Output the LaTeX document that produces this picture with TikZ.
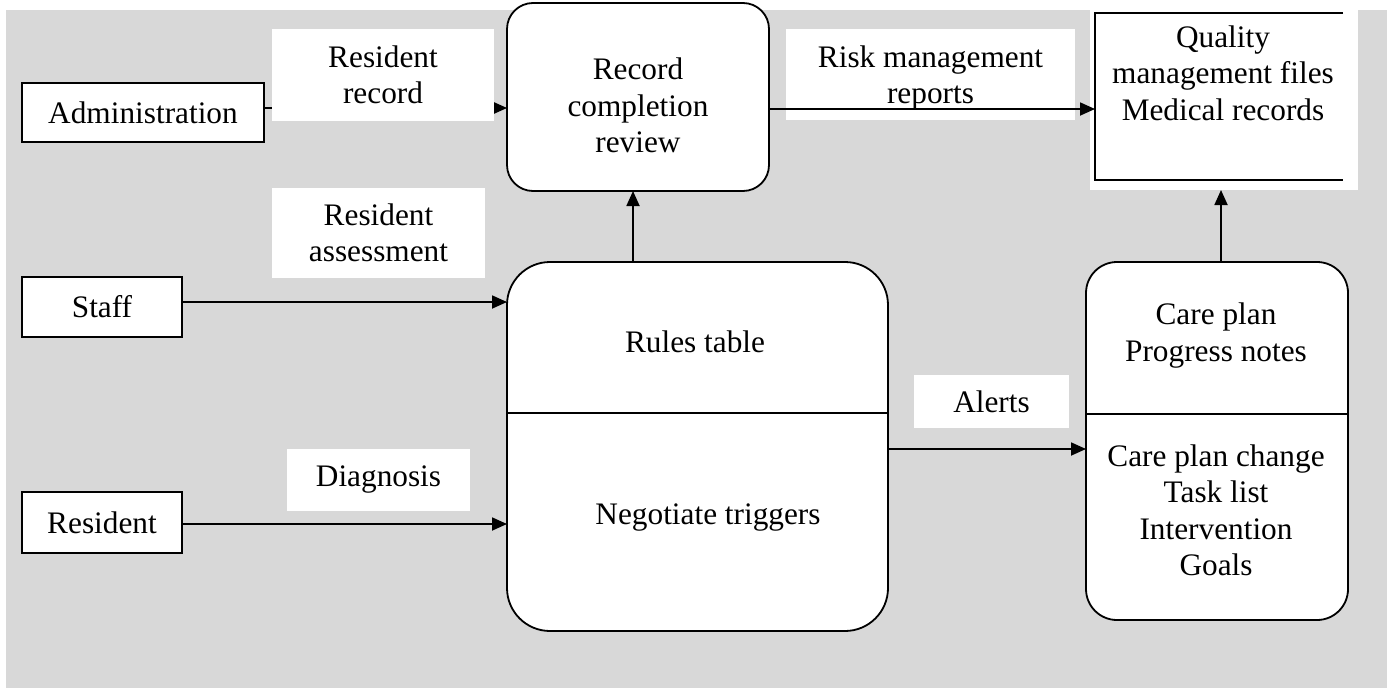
\documentclass[tikz,border=0pt]{standalone}
\usepackage{fontspec}
\setmainfont{Liberation Serif}
\usetikzlibrary{arrows.meta,calc}
\definecolor{bg}{RGB}{216,216,216}
\begin{document}
\begin{tikzpicture}[x=1pt,y=-1pt,
  every node/.style={font=\fontsize{31.3}{36.5}\selectfont, inner sep=0pt, outer sep=0pt},
  ext/.style={draw, fill=white, line width=1.8pt, rectangle},
  proc/.style={draw, fill=white, line width=1.8pt, rectangle},
  lbl/.style={fill=white, align=center},
  txt/.style={align=center},
  arr/.style={line width=1.8pt, -{Triangle[length=15pt,width=13pt]}},
  sep/.style={line width=1.8pt}]
\useasboundingbox (0,0) rectangle (1394,688);
\fill[bg] (6,10) rectangle (1387,688);

% external entities
\node[ext, minimum width=242pt, minimum height=59pt] (admin) at (143,112.5) {Administration};
\node[ext, minimum width=160pt, minimum height=60pt] (staff) at (102,307) {Staff};
\node[ext, minimum width=160pt, minimum height=61pt] (resident) at (102,522.5) {Resident};

% processes
\node[proc, rounded corners=26pt, minimum width=262pt, minimum height=188pt] (record) at (638,97) {};
\node[txt] (recordtxt) at (638,105.5) {Record\\completion\\review};

\node[proc, rounded corners=43pt, minimum width=381pt, minimum height=369pt] (rules) at (697.5,446.5) {};
\coordinate (rdiv) at (0,413);
\draw[sep] (rules.west |- rdiv) -- (rules.east |- rdiv);
\node (rulestxt) at (695,342) {Rules table};
\node (negtxt) at (708,518) {Negotiate triggers};

\node[proc, rounded corners=31pt, minimum width=262pt, minimum height=358pt] (care) at (1217,441) {};
\coordinate (cdiv) at (0,414);
\draw[sep] (care.west |- cdiv) -- (care.east |- cdiv);
\node[txt] (caretop) at (1216,335.5) {Care plan\\Progress notes};
\node[txt] (carebot) at (1216,510.5) {Care plan change\\Task list\\Intervention\\Goals};

% data store
\node[fill=white, minimum width=268pt, minimum height=190pt] (qualbg) at (1224,95) {};
\node[minimum width=248pt, minimum height=167pt] (quality) at (1219,96.5) {};
\draw[sep] (quality.north east) -- (quality.north west) -- (quality.south west) -- (quality.south east);
\node[txt] (qualtxt) at (1223,73) {Quality\\management files\\Medical records};

% flows
\coordinate (a1) at ([yshift=4.5pt]admin.east);
\draw[arr] (a1) -- (a1 -| record.west);
\node[lbl, minimum width=222pt, minimum height=92pt] (lrec) at (383,75) {Resident\\record};

\coordinate (s1) at ([yshift=5pt]staff.east);
\draw[arr] (s1) -- (s1 -| rules.west);
\node[lbl, minimum width=213pt, minimum height=90pt] (lass) at (378.5,233) {Resident\\assessment};

\coordinate (d1) at ([yshift=-1.5pt]resident.east);
\draw[arr] (d1) -- (d1 -| rules.west);
\node[lbl, minimum width=183pt, minimum height=62pt] (ldiag) at (378.5,480) {Diagnosis};

\node[lbl, minimum width=289pt, minimum height=91pt, text depth=0pt] (lrisk) at (930.5,74.5) {Risk management\\reports};
\coordinate (r1) at ([yshift=-12pt]record.east);
\draw[arr] (r1) -- (r1 -| quality.west);

\coordinate (r2) at ([xshift=-5pt]record.south);
\draw[arr] (r2 |- rules.north) -- (r2);

\node[lbl, minimum width=155pt, minimum height=53pt] (lalert) at (991.5,401.5) {Alerts};
\coordinate (r3) at ([yshift=-2.5pt]rules.east);
\draw[arr] (r3) -- (r3 -| care.west);

\coordinate (c1) at ([xshift=4pt]care.north);
\draw[arr] (c1) -- (c1 |- qualbg.south);
\end{tikzpicture}
\end{document}
